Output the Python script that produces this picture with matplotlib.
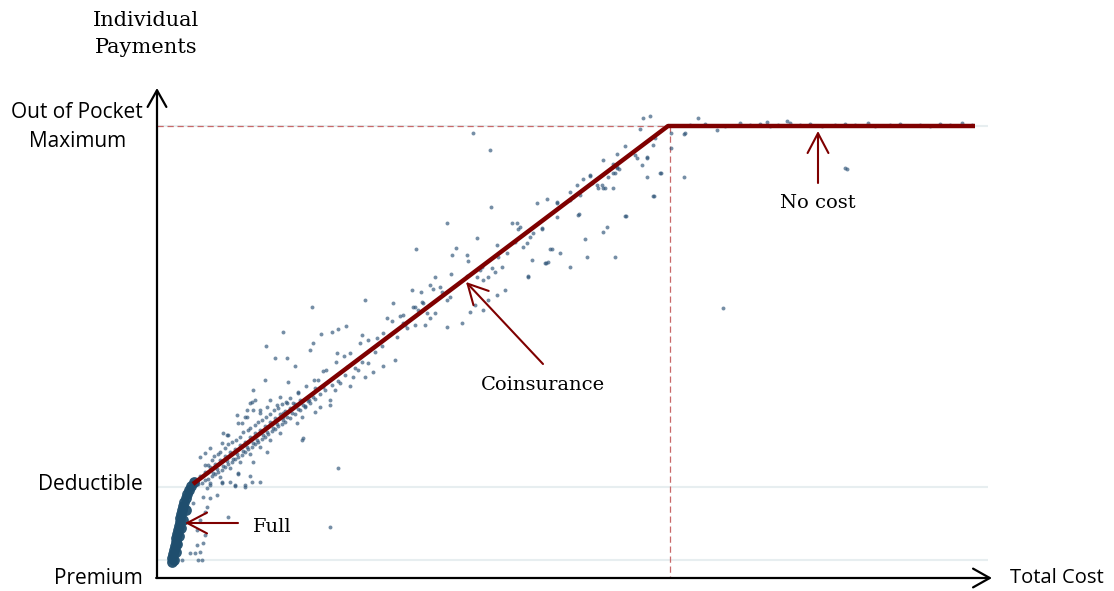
"""
Individual payments vs total cost under a deductible / coinsurance / OOP-max plan
"""

import matplotlib
matplotlib.use("Agg")
import matplotlib.pyplot as plt

# plan levels (arbitrary payment units)
premium_level = 20
deductible_level = 93
oop_level = 454
oop_cost = 520          # total cost where the OOP maximum is reached
grid_end = 838

# schedule drawn in red: deductible kink -> OOP kink -> end
schedule_cost = [43, 518, 825]
schedule_pay = [96, 454, 454]

# dense cloud while paying full price
full_cost = [21.5, 22.4, 23.2, 24, 24.8, 25.6, 26.4, 27.2, 28, 28.8, 29.6,
             30.4, 31.3, 32.3, 33.3, 34.4, 35.7, 37.2, 39, 41.2, 44,
             24, 25.5, 27, 29, 31, 33, 36]
full_pay = [18, 22, 26, 30, 34, 38, 42, 46, 50, 54, 58,
            62, 66, 70, 74, 78, 82, 86, 90, 94, 98,
            20, 28, 36, 44, 52, 60, 70]

# individual claims
claim_cost = [
    40, 45, 50, 52, 48, 32, 53, 47, 55, 55, 57, 67, 60, 78, 72, 80, 88, 102, 95, 85,
    180, 188, 152, 50, 47, 43,
    73, 77, 87, 88, 92, 97, 100, 103, 110, 117, 127, 137, 133, 147, 153, 117, 103, 88,
    95, 85, 72, 60, 53, 57, 110, 100, 50, 55, 60, 72, 78,
    48, 52, 55, 58, 62, 65, 68, 72, 75, 78, 82, 85, 88, 92, 95, 98, 102, 105, 108, 112,
    115, 118, 122, 125, 128, 132, 135, 140, 145, 150, 155, 160, 165,
    60, 70, 80, 90, 100, 110, 120, 130,
    50, 55, 60, 65, 70, 75, 80, 85, 90, 95, 100, 105, 110, 115, 120, 125, 130, 135,
    140, 145, 150,
    55, 62, 68, 75, 82, 90, 98, 105, 112, 120, 128, 136,
    63, 67, 73, 77, 83, 87, 93, 97, 103, 107, 113, 117, 123, 127, 133, 137, 142, 148,
    153, 158, 163, 170, 175, 182, 188, 195, 205, 212, 225, 232,
    58, 64, 70, 78, 86, 93, 100, 108, 116, 124, 132, 140, 148, 156, 164, 176, 186, 194,
    162, 215, 243, 263, 133, 116, 125, 137, 145, 160, 163, 171, 182, 188, 196, 212,
    210, 218, 227, 233, 237, 242, 250, 253, 257, 265, 247, 245, 233, 223, 218, 208,
    203, 215, 200, 190, 185, 180, 173, 168, 165, 163, 159, 155, 152, 148, 138, 130,
    120, 110, 103, 105, 97, 95, 102, 115, 133, 143, 170, 180, 165, 197, 187, 200, 173,
    341, 387, 407, 297, 362, 367, 370, 368, 383, 380, 392, 377, 373, 365, 327, 347,
    357, 266, 306, 302, 317, 318, 348, 332, 330, 342, 345, 352, 338, 327, 333, 317,
    301, 285, 290, 283, 280, 292, 300, 297, 262, 271, 272, 273, 268, 265, 277, 280,
    285, 253, 275, 255, 297, 312, 320, 325, 333, 338, 347, 355, 378, 382, 395, 398,
    402, 410, 420, 428,
    397, 407, 420, 427, 433, 440, 453, 467, 485, 497, 492, 497, 510, 503, 475, 465,
    457, 453, 435, 437, 400, 396, 378, 442, 430, 448, 463, 467, 455, 420, 407, 392,
    493, 500, 490, 475, 463, 487, 497, 503, 505, 511, 467, 465, 469, 458, 452, 453,
    447, 440, 423, 463, 504, 429, 476, 521, 521, 534, 534,
    323, 340, 573, 695,
    617, 637, 548, 535, 567, 697,
    540, 555, 575, 590, 600, 610, 620, 628, 640, 650, 660, 672, 685, 695, 705, 718,
    725, 740, 750, 770, 780, 790, 800, 812, 822,
]
claim_pay = [
    27, 27, 28, 20, 20, 20, 37, 35, 45, 68, 73, 85, 82, 63, 97, 98, 107, 98, 95, 95,
    53, 112, 140, 60, 50, 77,
    147, 145, 165, 157, 157, 163, 177, 170, 167, 173, 175, 177, 163, 157, 142, 128, 118, 106,
    93, 94, 98, 95, 83, 92, 98, 104, 123, 127, 132, 137, 145,
    96, 97, 100, 101, 104, 106, 108, 110, 113, 116, 118, 121, 123, 125, 128, 131, 133, 136, 138, 141,
    143, 146, 149, 151, 154, 156, 158, 162, 166, 170, 174, 177, 181,
    97, 103, 112, 118, 126, 133, 140, 147,
    104, 108, 113, 116, 120, 124, 128, 131, 135, 138, 143, 147, 150, 154, 158, 162, 166, 169,
    172, 176, 180,
    115, 120, 126, 132, 138, 143, 150, 155, 160, 166, 172, 178,
    107, 111, 114, 119, 121, 126, 129, 133, 137, 140, 145, 148, 152, 156, 160, 163, 167, 171,
    175, 179, 183, 186, 190, 195, 199, 205, 212, 218, 228, 234,
    115, 124, 128, 136, 140, 148, 152, 158, 163, 170, 176, 182, 188, 194, 200, 210, 218, 224,
    273, 280, 277, 273, 248, 234, 222, 222, 214, 230, 237, 246, 248, 251, 254, 245,
    237, 240, 242, 247, 262, 259, 264, 257, 252, 255, 243, 220, 214, 208, 217, 210,
    203, 203, 194, 197, 190, 180, 209, 200, 192, 187, 180, 173, 163, 187, 198, 183,
    180, 170, 190, 180, 170, 163, 178, 200, 167, 177, 173, 175, 168, 213, 227, 227, 193,
    373, 377, 378, 357, 357, 357, 353, 351, 347, 343, 351, 337, 333, 338, 342, 335,
    327, 331, 332, 325, 325, 319, 323, 313, 310, 312, 308, 313, 303, 303, 300, 304,
    306, 303, 293, 291, 295, 288, 283, 280, 290, 288, 278, 277, 270, 273, 267, 262,
    267, 265, 255, 255, 253, 257, 268, 275, 270, 280, 285, 290, 303, 320, 317, 318,
    331, 327, 313, 365,
    381, 377, 388, 395, 401, 405, 420, 426, 425, 423, 415, 403, 407, 384, 364, 323,
    353, 348, 341, 323, 331, 317, 304, 397, 385, 392, 407, 413, 392, 380, 363, 352,
    462, 464, 451, 434, 416, 422, 422, 435, 442, 407, 412, 407, 411, 403, 395, 392,
    395, 404, 383, 392, 384, 366, 364, 432, 447, 446, 403,
    447, 430, 272, 412,
    458, 459, 462, 447, 450, 411,
    455, 456, 454, 457, 455, 456, 454, 455, 457, 455, 456, 454, 455, 456, 455, 457,
    454, 455, 456, 455, 454, 456, 455, 457, 455,
]

# y-axis labels: (text, payment level where it sits)
y_labels = [("Premium", 2), ("Deductible", 95), ("Out of Pocket\nMaximum", 453)]

# annotations: text, arrow tip, arrow tail, text anchor
notes = [
    ("Full", (35, 57), (88, 57), (103, 53), "left"),
    ("Coinsurance", (316, 298), (393, 216), (393, 195), "center"),
    ("No cost", (668, 449), (668, 397), (668, 377), "center"),
]

red = "#7f0000"
dash_red = "#c8696a"
dot_blue = "#2c5276"
grid_col = "#e7eef0"

sans = ["Open Sans", "DejaVu Sans"]
serif = ["DejaVu Serif"]

fig = plt.figure(figsize=(11.14, 5.91), dpi=100)
ax = fig.add_axes([157 / 1114, 13 / 591, 835 / 1114, 490 / 591])
ax.set_xlim(7, 842)
ax.set_ylim(2, 492)
for s in ax.spines.values():
    s.set_visible(False)
ax.set_xticks([])
ax.set_yticks([])

# light reference lines
ax.hlines([premium_level, deductible_level, oop_level], 7, grid_end,
          color=grid_col, lw=1.5, zorder=1)
# dashed guides to the OOP kink
ax.plot([7, oop_cost], [oop_level, oop_level], color=dash_red, lw=0.9,
        dashes=(5, 3), zorder=2)
ax.plot([oop_cost, oop_cost], [oop_level, 2], color=dash_red, lw=0.9,
        dashes=(5, 3), zorder=2)

ax.scatter(full_cost, full_pay, s=60, color="#1f4e6e", alpha=0.95,
           linewidths=0, zorder=3)
ax.scatter(claim_cost, claim_pay, s=8, color=dot_blue, alpha=0.65,
           linewidths=0, zorder=3)

ax.plot(schedule_cost, schedule_pay, color=red, lw=3.2,
        solid_capstyle="butt", zorder=4)

# axis arrows
arrow_kw = dict(arrowstyle="->,head_length=0.8,head_width=0.45", color="black",
                lw=1.6, mutation_scale=15, shrinkA=0, shrinkB=0)
ax.annotate("", xy=(0, 1), xytext=(0, 0), xycoords="axes fraction",
            arrowprops=arrow_kw, annotation_clip=False)
ax.annotate("", xy=(1, 0), xytext=(-0.001, 0), xycoords="axes fraction",
            arrowprops=arrow_kw, annotation_clip=False)

for label, tip, tail, pos, ha in notes:
    ax.annotate("", xy=tip, xytext=tail,
                arrowprops=dict(arrowstyle="->,head_length=0.95,head_width=0.5",
                                color=red, lw=1.5, mutation_scale=15,
                                shrinkA=0, shrinkB=0), zorder=5)
    ax.text(pos[0], pos[1], label, ha=ha, va="center", fontsize=14,
            family=serif, color="black")

for label, level in y_labels:
    ax.text(-7, level, label, ha="right", va="center", multialignment="center",
            fontsize=15, family=sans, linespacing=1.5, clip_on=False)

ax.text(860, 2, "Total Cost", ha="left", va="center", fontsize=14.5,
        family=sans, clip_on=False)
ax.text(-4, 546, "Individual\nPayments", ha="center", va="center",
        fontsize=15, family=serif, linespacing=1.5, clip_on=False)

fig.savefig("out.png", dpi=100)
